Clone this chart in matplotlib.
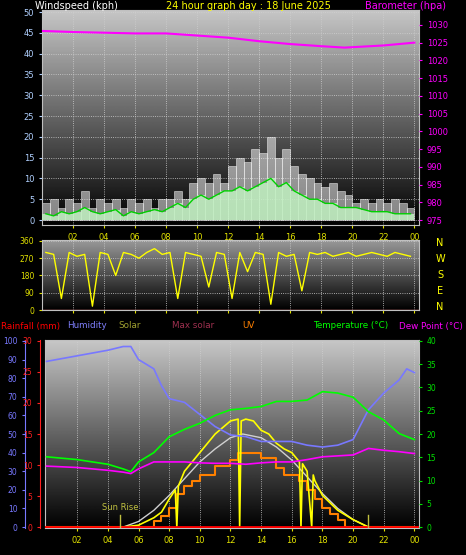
import numpy as np
import matplotlib
matplotlib.use("Agg")
import matplotlib.pyplot as plt

hours_half = np.arange(48) * 0.5 + 0.25
gust = [4,5,3,5,4,7,3,5,4,5,3,5,4,5,3,5,5,7,5,9,10,9,11,9,13,15,14,17,16,20,15,17,13,11,10,9,8,9,7,6,4,5,4,5,4,5,4,3]
avg = [1.5,1,2,1.5,2,3,2,1.5,2,2.5,1,2,1.5,2,2.5,2,3,4,3,5,6,5,6,7,7,8,7,8,9,10,8,9,7,6,5,5,4,4,3,3,3,2.5,2,2,2,1.5,1.5,1.5]
baro_h = [0,2,4,6,8,10,12,14,16,18,19.5,22,24]
baro = [1028.3,1028,1027.8,1027.6,1027.6,1027,1026.4,1025.4,1024.6,1024,1023.6,1024.2,1025]
wdir = [300,290,60,300,280,290,20,300,290,180,300,290,270,300,320,290,300,60,300,290,280,120,300,290,60,300,200,300,290,30,300,280,290,100,300,290,300,280,290,300,280,290,300,290,280,300,290,280]

th = [0,2,4,5,5.5,6,7,8,9,10,11,12,13,14,15,16,17,18,19,20,21,22,23,24]
temp = [15.1,14.5,13.5,12.5,11.9,14,16,19.4,21,22.3,24,25.2,25.5,25.9,27,27,27.3,29.1,28.8,27.9,24.8,23,20.1,18.8]
dew = [13.1,12.8,12.2,11.8,11.5,12.5,14,14,14,13.8,13.7,13.7,13.5,13.8,14,14,14.5,15.1,15.3,15.5,16.9,16.5,16.2,15.8]
hum_h = [0,2,4,5,5.5,6,7,7.5,8,9,10,11,12,13,14,15,16,17,18,19,20,21,22,23,23.5,24]
hum = [89,92,95,97,97,90,85,76,69,67,60.5,54,49.5,48.6,46,46,46,44,43,44,47,63,72,79,85,83]
ms_h = [0,5,6,7,8,9,10,11,12,12.8,14,15,16,17,18,19,20,21,24]
maxsolar = [0,0,3,9,17,26,35,42,48,50,48,43,36,27,18,10,4,0,0]
sol_h = [0,5,6,7,7.5,8,8.4,8.5,8.6,9,10,11,12,12.5,12.6,12.7,13,13.5,14,14.5,15,15.5,16,16.5,16.6,16.7,17,17.3,17.4,17.5,18,18.5,19,20,21,24]
solar = [0,0,1,5,8,15,20,0,22,30,40,50,57,58,0,57,58,57,52,50,45,42,40,35,0,34,30,0,28,25,17,13,9,4,0,0]
uv_h = [0,7,7.5,8,8.5,9,9.5,10,11,12,12.5,13,14,15,15.5,16,16.5,17,17.5,18,18.5,19,19.5,24]
uv = [0,3,6,10,18,22,25,28,33,36,40,40,37,32,28,28,25,20,15,10,7,4,0,0]

fig = plt.figure(figsize=(4.66, 5.55), dpi=100, facecolor='black')
grad = np.linspace(0, 1, 256).reshape(-1, 1)

def bg(ax, top=0.78):
    ax.set_facecolor('black')
    ax.imshow(grad * top, extent=[0, 1, 0, 1], transform=ax.transAxes, cmap='gray',
              vmin=0, vmax=1, aspect='auto', zorder=0, origin='lower')
    ax.grid(True, color='#d0d0d0', linestyle=':', linewidth=0.6, zorder=1)
    for s in ax.spines.values():
        s.set_color('#c0c0c0')

def xaxis(ax, x0=0.0, labels=True):
    ax.set_xlim(x0, 24.3)
    ax.set_xticks(range(2, 25, 2))
    ax.set_xticklabels(['%02d' % (h % 24) for h in range(2, 25, 2)] if labels else [])
    ax.tick_params(axis='x', colors='#e0e000', labelsize=6, length=2)

# top panel
ax1 = fig.add_axes([42/466, 1-225/555, 377/466, 215/555])
bg(ax1)
xaxis(ax1)
ax1.set_ylim(-1.2, 50.5)
ax1.set_yticks(range(0, 51, 5))
ax1.tick_params(axis='y', colors='#b0d0ff', labelsize=6, length=2)
ax1.bar(hours_half, gust, width=0.5, color='#f0f0f0', alpha=0.55, edgecolor='white', linewidth=0.6, zorder=2)
ax1.bar(hours_half, avg, width=0.5, color='#c0f0c0', alpha=0.85, zorder=3)
ax1.plot(hours_half, avg, color='#00d000', lw=1, zorder=4)
ax1b = ax1.twinx()
ax1b.set_ylim(973.6, 1034.2)
ax1b.set_yticks(range(975, 1031, 5))
ax1b.tick_params(axis='y', colors='#ff00ff', labelsize=6, length=2)
ax1b.plot(baro_h, baro, color='#ff00ff', lw=1.5)
for s in ax1b.spines.values():
    s.set_visible(False)
fig.text(35/466, 1-6/555, 'Windspeed (kph)', color='white', fontsize=7, va='center')
fig.text(248/466, 1-6/555, '24 hour graph day : 18 June 2025', color='#ffff00', fontsize=7, va='center', ha='center')
fig.text(446/466, 1-6/555, 'Barometer (hpa)', color='#ff00ff', fontsize=7, va='center', ha='right')

# middle panel
ax2 = fig.add_axes([42/466, 1-310/555, 377/466, 70/555])
bg(ax2, 0.6)
xaxis(ax2, labels=False)
ax2.set_ylim(0, 365)
ax2.set_yticks([0, 90, 180, 270, 360])
ax2.tick_params(axis='y', colors='#e0e000', labelsize=5.5, length=2)
ax2.plot(hours_half, wdir, color='#ffff00', lw=1)
ax2.axhline(0, color='#ff8080', lw=1)
for i, l in enumerate(['N', 'W', 'S', 'E', 'N']):
    fig.text(440/466, 1-(243+i*16)/555, l, color='#ffff00', fontsize=7, ha='center', va='center')

# bottom panel
ax3 = fig.add_axes([45/466, 1-528/555, 374/466, 188/555])
bg(ax3)
xaxis(ax3, x0=-0.1)
ax3.set_ylim(-0.5, 100.5)
ax3.set_yticks([])
ax3.plot(ms_h, maxsolar, color='#d0d0d0', lw=1, zorder=3)
ax3.step(uv_h, uv, where='post', color='#ff8000', lw=1.5, zorder=3)
ax3.plot(sol_h, solar, color='#ffff00', lw=1.2, zorder=4)
ax3.plot(hum_h, hum, color='#7878ff', lw=1.2, zorder=4)
ax3.axhline(0, color='#ff0000', lw=2, zorder=5)
ax3.axvline(4.8, ymax=0.07, color='#c0c040', lw=1, zorder=5)
ax3.axvline(21, ymax=0.07, color='#c0c040', lw=1, zorder=5)
ax3.text(3.6, 9, 'Sun Rise', color='#c0c040', fontsize=6, zorder=6)
ax3t = ax3.twinx()
ax3t.set_ylim(-0.2, 40.2)
ax3t.set_yticks(range(0, 41, 5))
ax3t.tick_params(axis='y', colors='#00e000', labelsize=5.5, length=2)
ax3t.plot(th, temp, color='#00ff00', lw=1.2)
ax3t.plot(th, dew, color='#ff00ff', lw=1.2)
for s in ax3t.spines.values():
    s.set_visible(False)
axh = fig.add_axes([25/466, 1-528/555, 0.001, 188/555])
axh.set_ylim(-0.5, 100.5)
axh.set_yticks(range(0, 101, 10))
axh.set_xticks([])
axh.tick_params(axis='y', colors='#7878ff', labelsize=5.5, length=2)
for k, s in axh.spines.items():
    s.set_visible(k == 'right'); s.set_color('#7878ff')
axh.set_facecolor('black')
axr = fig.add_axes([40/466, 1-528/555, 0.001, 188/555])
axr.set_ylim(-0.15, 30.15)
axr.set_yticks(range(0, 31, 5))
axr.set_xticks([])
axr.tick_params(axis='y', colors='#ff2020', labelsize=5.5, length=2)
for k, s in axr.spines.items():
    s.set_visible(k == 'left'); s.set_color('#ff2020')
axr.set_facecolor('black')

y = 1-326/555
fig.text(1/466, y, 'Rainfall (mm)', color='#ff0000', fontsize=6.3, va='center')
fig.text(67/466, y, 'Humidity', color='#8080ff', fontsize=6.3, va='center')
fig.text(118/466, y, 'Solar', color='#a0a030', fontsize=6.3, va='center')
fig.text(172/466, y, 'Max solar', color='#a03050', fontsize=6.3, va='center')
fig.text(242/466, y, 'UV', color='#ff8000', fontsize=6.3, va='center')
fig.text(313/466, y, 'Temperature (°C)', color='#00ff00', fontsize=6.3, va='center')
fig.text(463/466, y, 'Dew Point (°C)', color='#ff00ff', fontsize=6.3, va='center', ha='right')

fig.savefig('out.png', dpi=100, facecolor='black')
